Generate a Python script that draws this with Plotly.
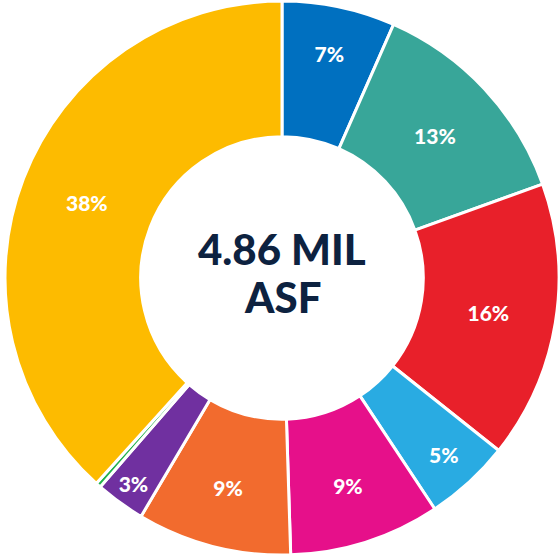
import plotly.graph_objects as go

# share of total area, clockwise from 12 o'clock
names = ["A", "B", "C", "D", "E", "F", "G", "H", "I"]
values = [6.6, 12.9, 16.2, 5.0, 8.8, 9.0, 2.9, 0.3, 38.3]
labels = ["7%", "13%", "16%", "5%", "9%", "9%", "3%", "", "38%"]
colors = ["#0070c0", "#38a699", "#e8202a", "#29abe2", "#e6108a",
          "#f26b2e", "#7030a0", "#22b14c", "#fdbb00"]
center_lines = ["4.86 MIL", "ASF"]

fig = go.Figure(go.Pie(
    labels=names,
    values=values,
    text=labels,
    textinfo="text",
    textposition="inside",
    insidetextorientation="horizontal",
    textfont=dict(family="Lato", size=21, color="white", weight=900),
    marker=dict(colors=colors, line=dict(color="white", width=3)),
    hole=0.51,
    sort=False,
    direction="clockwise",
    rotation=0,
    showlegend=False,
))

# centre label, two lines placed separately for tighter spacing
for txt, yy in zip(center_lines, [0.552, 0.466]):
    fig.add_annotation(text=txt, x=0.5, y=yy, xref="paper", yref="paper",
                       showarrow=False, yanchor="middle",
                       font=dict(family="Lato", size=42, color="#0d2240", weight=900))

fig.update_layout(width=559, height=556, margin=dict(l=5, r=0, t=0, b=0),
                  paper_bgcolor="white", uniformtext=dict(minsize=21, mode="show"))

fig.write_html("out.html", config={"displayModeBar": False},
               post_script="document.body.style.margin='0';")
